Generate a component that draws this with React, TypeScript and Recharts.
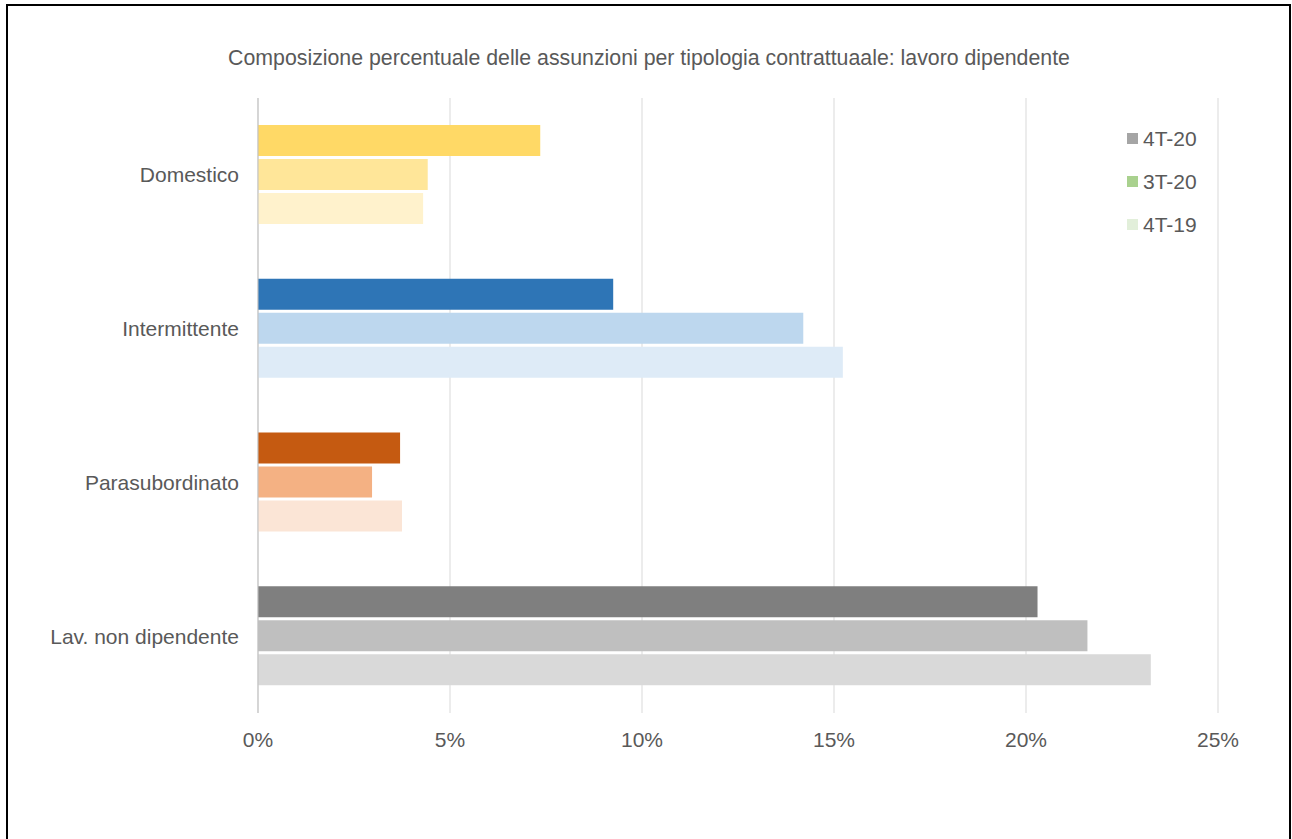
import { BarChart, Bar, XAxis, YAxis, CartesianGrid, Cell } from 'recharts';

const categories = ['Domestico', 'Intermittente', 'Parasubordinato', 'Lav. non dipendente'];
const q4_20 = [7.35, 9.25, 3.7, 20.3];
const q3_20 = [4.42, 14.2, 2.97, 21.6];
const q4_19 = [4.3, 15.23, 3.75, 23.25];
const seriesNames = ['4T-20', '3T-20', '4T-19'];
const xTicks = [0, 5, 10, 15, 20, 25];

// each category has its own colour family (dark -> light)
const catColors = [
    ['#FFD966', '#FFE699', '#FFF2CC'],
    ['#2E75B6', '#BDD7EE', '#DEEBF7'],
    ['#C55A11', '#F4B183', '#FBE5D6'],
    ['#7F7F7F', '#BFBFBF', '#D9D9D9'],
];
const legendColors = ['#A5A5A5', '#A9D18E', '#E2EFDA'];

const FONT = '"Liberation Sans", Arial, sans-serif';
const TEXT = '#595959';

const data = categories.map((c, i) => ({
    name: c,
    s0: q4_20[i],
    s1: q3_20[i],
    s2: q4_19[i],
}));

function LegendBox() {
    return (
        <div style={{ position: 'absolute', left: 1127, top: 117, fontFamily: FONT, fontSize: 21, color: TEXT }}>
            {seriesNames.map((n, i) => (
                <div key={n} style={{ display: 'flex', alignItems: 'center', height: 43 }}>
                    <span style={{ width: 11, height: 11, background: legendColors[i], display: 'inline-block', marginRight: 5 }} />
                    <span>{n}</span>
                </div>
            ))}
        </div>
    );
}

export default function App() {
    return (
        <div style={{ position: 'absolute', left: 0, top: 0, width: 1292, height: 839, background: '#fff', overflow: 'hidden' }}>
            <div style={{ position: 'absolute', left: 6, top: 4, width: 1285, height: 900, border: '2px solid #000', boxSizing: 'border-box' }} />
            <div style={{ position: 'absolute', left: 0, top: 46, width: 1298, textAlign: 'center', fontFamily: FONT, fontSize: 21.3, color: TEXT, whiteSpace: 'nowrap' }}>
                Composizione percentuale delle assunzioni per tipologia contrattuaale: lavoro dipendente
            </div>
            <div style={{ position: 'absolute', left: 0, top: 0 }}>
                <BarChart
                    width={1292}
                    height={839}
                    data={data}
                    layout="vertical"
                    margin={{ top: 98, right: 74, bottom: 96, left: 0 }}
                    barCategoryGap={27}
                    barGap={3}
                >
                    <CartesianGrid horizontal={false} stroke="#D9D9D9" />
                    <XAxis
                        type="number"
                        domain={[0, 25]}
                        ticks={xTicks}
                        tickFormatter={(v: number) => `${v}%`}
                        axisLine={false}
                        tickLine={false}
                        tickSize={0}
                        tickMargin={19}
                        height={30}
                        tick={{ fill: TEXT, fontSize: 21, fontFamily: FONT }}
                        interval={0}
                    />
                    <YAxis
                        type="category"
                        dataKey="name"
                        width={258}
                        axisLine={{ stroke: '#BFBFBF' }}
                        tickLine={false}
                        tickSize={0}
                        tickMargin={19}
                        tick={{ fill: TEXT, fontSize: 21, fontFamily: FONT }}
                    />
                    {seriesNames.map((n, si) => (
                        <Bar key={n} dataKey={`s${si}`} name={n} fill={legendColors[si]} isAnimationActive={false}>
                            {data.map((_, ci) => (
                                <Cell key={ci} fill={catColors[ci][si]} />
                            ))}
                        </Bar>
                    ))}
                </BarChart>
            </div>
            <LegendBox />
        </div>
    );
}
